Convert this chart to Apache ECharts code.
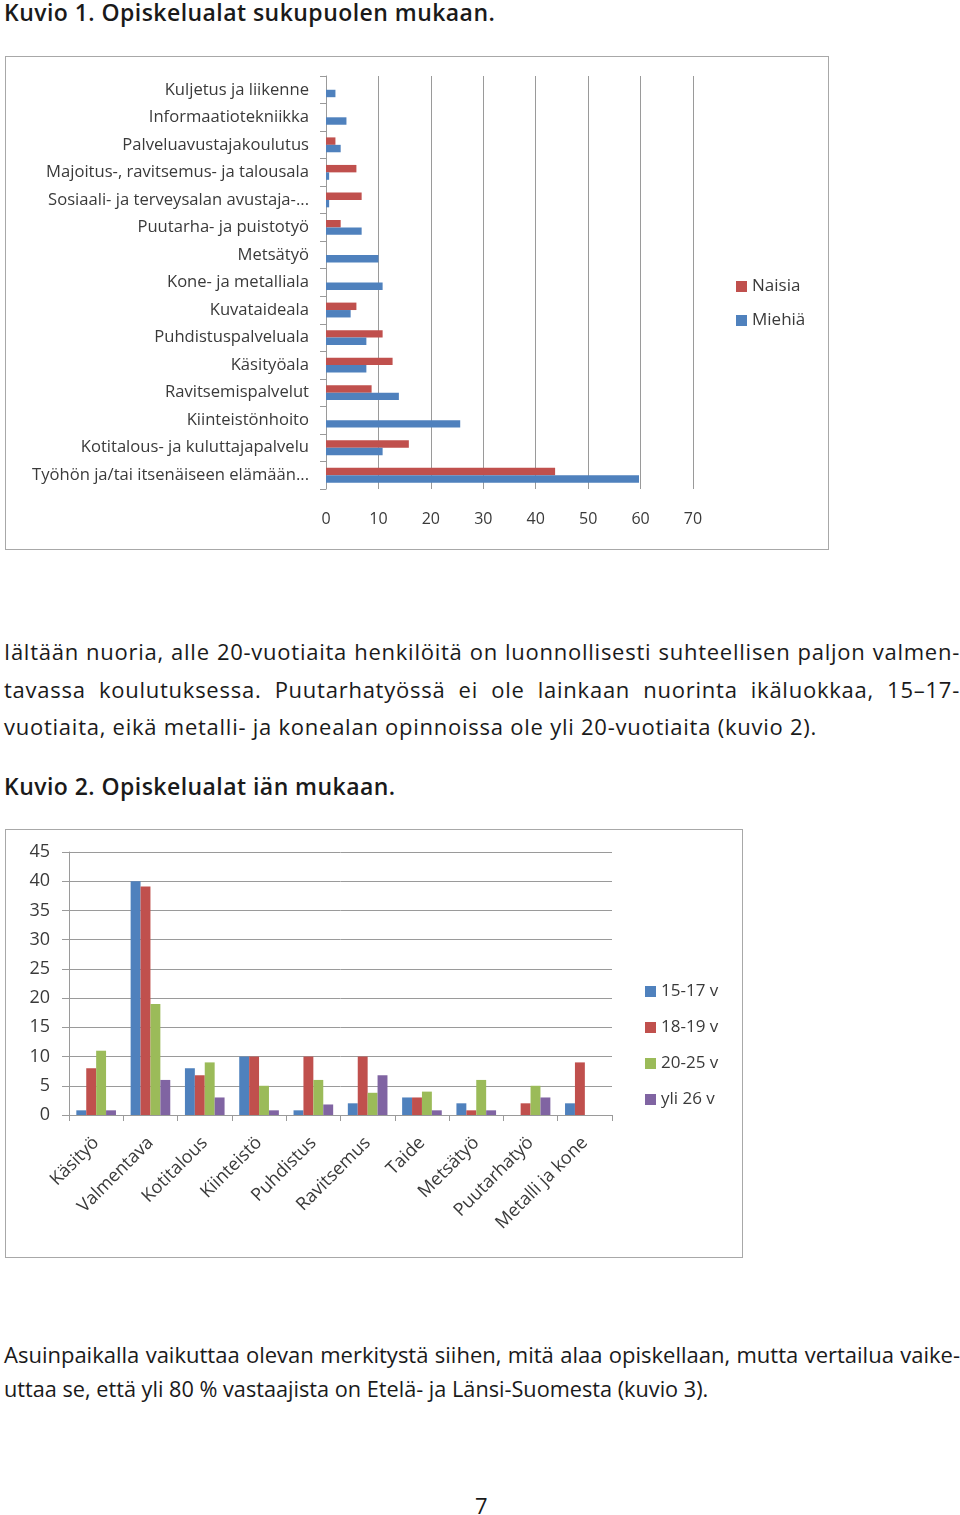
<!DOCTYPE html>
<html>
<head>
<meta charset="utf-8">
<script src="https://cdn.jsdelivr.net/npm/echarts@6/dist/echarts.min.js"></script>
<style>
  html, body { margin: 0; padding: 0; background: #fff; }
  body { width: 960px; height: 1515px; position: relative; font-family: "Open Sans", "Noto Sans", sans-serif; color: #1a1a1a; }
  .t { position: absolute; white-space: nowrap; font-size: 22px; line-height: 30px; }
  .p1 { letter-spacing: 0.75px; }
  .h { font-weight: 600; font-size: 23px; letter-spacing: 0.45px; }
  .j { text-align: justify; text-align-last: justify; }
  .box { position: absolute; border: 1px solid #a8a8a8; box-sizing: border-box; }
</style>
</head>
<body>
<div class="t h" style="left:4px; top:-3px;">Kuvio 1. Opiskelualat sukupuolen mukaan.</div>
<div id="c1" class="box" style="left:5px; top:56px; width:824px; height:494px;"></div>

<div class="t j p1" style="left:4px; top:636px; width:956px;">Iältään nuoria, alle 20-vuotiaita henkilöitä on luonnollisesti suhteellisen paljon valmen-</div>
<div class="t j p1" style="left:4px; top:674px; width:956px;">tavassa koulutuksessa. Puutarhatyössä ei ole lainkaan nuorinta ikäluokkaa, 15–17-</div>
<div class="t p1" style="left:4px; top:711px;">vuotiaita, eikä metalli- ja konealan opinnoissa ole yli 20-vuotiaita (kuvio 2).</div>

<div class="t h" style="left:4px; top:771px;">Kuvio 2. Opiskelualat iän mukaan.</div>
<div id="c2" class="box" style="left:5px; top:829px; width:738px; height:429px;"></div>

<div class="t j" style="left:4px; top:1339px; width:956px;">Asuinpaikalla vaikuttaa olevan merkitystä siihen, mitä alaa opiskellaan, mutta vertailua vaike-</div>
<div class="t" style="left:4px; top:1374px; font-size:21.7px;">uttaa se, että yli 80 % vastaajista on Etelä- ja Länsi-Suomesta (kuvio 3).</div>

<div class="t" style="left:475px; top:1490px;">7</div>

<script>
// ---- Kuvio 1 data ----
const cats1 = ['Kuljetus ja liikenne', 'Informaatiotekniikka', 'Palveluavustajakoulutus',
  'Majoitus-, ravitsemus- ja talousala', 'Sosiaali- ja terveysalan avustaja-...',
  'Puutarha- ja puistotyö', 'Metsätyö', 'Kone- ja metalliala', 'Kuvataideala',
  'Puhdistuspalveluala', 'Käsityöala', 'Ravitsemispalvelut', 'Kiinteistönhoito',
  'Kotitalous- ja kuluttajapalvelu', 'Työhön ja/tai itsenäiseen elämään...'];
const naisia = [0, 0, 1.8, 5.8, 6.8, 2.8, 0, 0, 5.8, 10.8, 12.7, 8.7, 0, 15.8, 43.7];
const miehia = [1.8, 3.9, 2.8, 0.6, 0.6, 6.8, 10, 10.8, 4.7, 7.7, 7.7, 13.9, 25.6, 10.8, 59.7];
const xTicks1 = [0, 10, 20, 30, 40, 50, 60, 70];

// ---- Kuvio 2 data ----
const cats2 = ['Käsityö', 'Valmentava', 'Kotitalous', 'Kiinteistö', 'Puhdistus',
  'Ravitsemus', 'Taide', 'Metsätyö', 'Puutarhatyö', 'Metalli ja kone'];
const v15_17 = [0.8, 40, 8, 10, 0.8, 2, 3, 2, 0, 2];
const v18_19 = [8, 39.1, 6.8, 10, 10, 10, 3, 0.8, 2, 9];
const v20_25 = [11, 19, 9, 5, 6, 3.8, 4, 6, 5, 0];
const vYli26 = [0.8, 6, 3, 0.8, 1.8, 6.8, 0.8, 0.8, 3, 0];
const yTicks2 = [0, 5, 10, 15, 20, 25, 30, 35, 40, 45];

const FONT = '"Open Sans", "Noto Sans", sans-serif';
const TXT = '#3a3a3a';
const GRID = '#9a9a9a';

const c1 = echarts.init(document.getElementById('c1'), null, { renderer: 'canvas' });
c1.setOption({
  animation: false,
  textStyle: { fontFamily: FONT },
  legend: {
    data: ['Naisia', 'Miehiä'], orient: 'vertical', left: 725, top: 216,
    itemWidth: 11, itemHeight: 11, itemGap: 17, icon: 'rect',
    textStyle: { fontSize: 17, color: TXT, fontFamily: FONT }
  },
  grid: { left: 320, top: 19, width: 367, height: 413, containLabel: false },
  xAxis: {
    type: 'value', min: xTicks1[0], max: xTicks1[xTicks1.length - 1], interval: 10,
    axisLine: { show: false }, axisTick: { show: false },
    axisLabel: { fontSize: 16, color: TXT, margin: 22, fontFamily: FONT },
    splitLine: { show: true, lineStyle: { color: GRID, width: 1 } }
  },
  yAxis: {
    type: 'category', data: cats1, inverse: true,
    axisLine: { show: true, lineStyle: { color: GRID } },
    axisTick: { show: true, length: 6, lineStyle: { color: GRID } },
    axisLabel: { fontSize: 16.6, color: TXT, margin: 17, fontFamily: FONT }
  },
  series: [
    { name: 'Naisia', type: 'bar', data: naisia, barGap: '0%', barCategoryGap: '46%',
      itemStyle: { color: '#C0504D' } },
    { name: 'Miehiä', type: 'bar', data: miehia, barGap: '0%', barCategoryGap: '46%',
      itemStyle: { color: '#4F81BD' } }
  ]
});

const c2 = echarts.init(document.getElementById('c2'), null, { renderer: 'canvas' });
c2.setOption({
  animation: false,
  textStyle: { fontFamily: FONT },
  legend: {
    data: ['15-17 v', '18-19 v', '20-25 v', 'yli 26 v'], orient: 'vertical', left: 634, top: 148,
    itemWidth: 11, itemHeight: 11, itemGap: 19, icon: 'rect',
    textStyle: { fontSize: 17, color: TXT, fontFamily: FONT }
  },
  grid: { left: 63, top: 22, width: 543, height: 263, containLabel: false },
  xAxis: {
    type: 'category', data: cats2,
    axisLine: { show: true, lineStyle: { color: GRID } },
    axisTick: { show: true, length: 6, lineStyle: { color: GRID } },
    axisLabel: { fontSize: 18, color: TXT, rotate: 45, margin: 25, interval: 0, fontFamily: FONT }
  },
  yAxis: {
    type: 'value', min: yTicks2[0], max: yTicks2[yTicks2.length - 1], interval: 5,
    axisLine: { show: true, lineStyle: { color: GRID } },
    axisTick: { show: true, length: 7, lineStyle: { color: GRID } },
    axisLabel: { fontSize: 18, color: TXT, margin: 19, fontFamily: FONT },
    splitLine: { show: true, lineStyle: { color: GRID, width: 1 } }
  },
  series: [
    { name: '15-17 v', type: 'bar', data: v15_17, barGap: '0%', barCategoryGap: '27%', itemStyle: { color: '#4F81BD' } },
    { name: '18-19 v', type: 'bar', data: v18_19, barGap: '0%', barCategoryGap: '27%', itemStyle: { color: '#C0504D' } },
    { name: '20-25 v', type: 'bar', data: v20_25, barGap: '0%', barCategoryGap: '27%', itemStyle: { color: '#9BBB59' } },
    { name: 'yli 26 v', type: 'bar', data: vYli26, barGap: '0%', barCategoryGap: '27%', itemStyle: { color: '#8064A2' } }
  ]
});
</script>
</body>
</html>
